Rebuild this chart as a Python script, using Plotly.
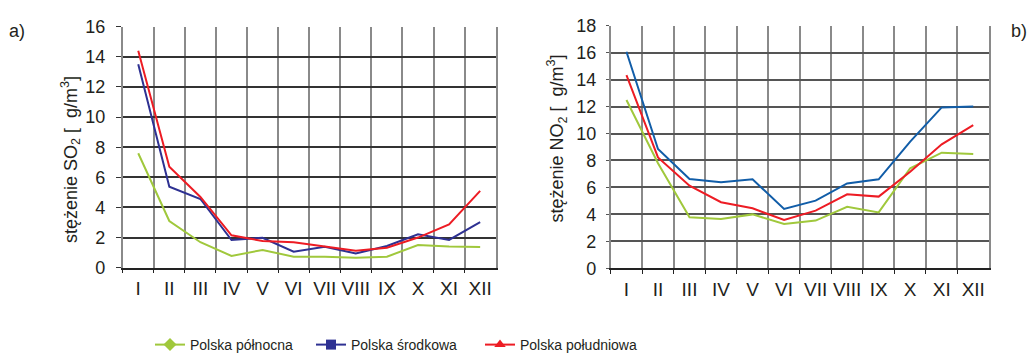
import plotly.graph_objects as go

months = ["I", "II", "III", "IV", "V", "VI", "VII", "VIII", "IX", "X", "XI", "XII"]

so2_north = [7.6, 3.1, 1.69, 0.78, 1.18, 0.73, 0.73, 0.66, 0.73, 1.5, 1.4, 1.38]
so2_central = [13.5, 5.38, 4.56, 1.84, 1.99, 1.06, 1.39, 0.95, 1.44, 2.22, 1.84, 3.03]
so2_south = [14.4, 6.7, 4.7, 2.15, 1.77, 1.69, 1.4, 1.13, 1.33, 2.0, 2.88, 5.1]

no2_north = [12.49, 7.79, 3.78, 3.66, 4.0, 3.29, 3.54, 4.57, 4.15, 7.42, 8.58, 8.48]
no2_central = [16.07, 8.85, 6.63, 6.38, 6.6, 4.4, 5.02, 6.3, 6.6, 9.4, 11.94, 12.0]
no2_south = [14.34, 8.23, 6.13, 4.9, 4.45, 3.58, 4.28, 5.49, 5.32, 7.17, 9.2, 10.63]

series_names = ["Polska północna", "Polska środkowa", "Polska południowa"]

GREEN = "#a0c83c"
BLUE_L = "#2e3192"
BLUE_R = "#115da8"
RED = "#ed1c24"
TXT = "#231f20"
FONT = "Liberation Sans, Arial, sans-serif"

# body margin is removed by post_script, so the figure fills the window exactly
W, H = 1034, 353


def px(x):
    return x / W


def py(y):
    return 1 - y / H


fig = go.Figure()

# left chart (SO2)
for vals, col in [(so2_north, GREEN), (so2_central, BLUE_L), (so2_south, RED)]:
    fig.add_trace(go.Scatter(x=months, y=vals, mode="lines", line=dict(color=col, width=2),
                             xaxis="x", yaxis="y", showlegend=False))
# right chart (NO2)
for vals, col in [(no2_north, GREEN), (no2_central, BLUE_R), (no2_south, RED)]:
    fig.add_trace(go.Scatter(x=months, y=vals, mode="lines", line=dict(color=col, width=2),
                             xaxis="x2", yaxis="y2", showlegend=False))

# legend entries, each in its own legend box
legend_ids = ["legend", "legend2", "legend3"]
for name, col, sym, lid in zip(series_names, [GREEN, BLUE_L, RED],
                               ["diamond", "square", "triangle-up"], legend_ids):
    fig.add_trace(go.Scatter(x=[None], y=[None], mode="lines+markers", name=name,
                             line=dict(color=col, width=2),
                             marker=dict(symbol=sym, size=10, color=col),
                             xaxis="x", yaxis="y", showlegend=True, legend=lid))

xcommon = dict(type="category", tickson="boundaries", ticks="outside", ticklen=4,
               tickcolor="#222", showgrid=True, gridcolor="#8a8a8a", gridwidth=1.5,
               showline=True, linecolor="#222", linewidth=1.5, tickangle=0, automargin=False,
               tickfont=dict(size=19, color=TXT, family=FONT), ticklabelstandoff=3,
               categoryorder="array", categoryarray=months, range=[-0.5, 11.5],
               fixedrange=True)


def legend_box(xs):
    return dict(orientation="h", x=px(xs), xanchor="left", y=py(345), yanchor="middle",
                font=dict(size=14, color=TXT, family=FONT), itemwidth=30,
                bgcolor="rgba(0,0,0,0)")


fig.update_layout(
    width=W, height=H,
    margin=dict(l=0, r=0, t=0, b=0, autoexpand=False),
    paper_bgcolor="white", plot_bgcolor="white",
    font=dict(family=FONT, color=TXT),
    xaxis=dict(domain=[px(122.7), px(495.7)], anchor="y", **xcommon),
    yaxis=dict(domain=[py(267.7), py(26.7)], anchor="x", range=[0, 16], dtick=2, tick0=0,
               showgrid=True, gridcolor="#333", gridwidth=1.5, zeroline=False, automargin=False,
               ticks="outside", ticklen=5, tickcolor="#333",
               showline=True, linecolor="#8a8a8a", linewidth=1.5, mirror=True,
               tickfont=dict(size=18, color=TXT, family=FONT), ticklabelstandoff=7),
    xaxis2=dict(domain=[px(610.7), px(989)], anchor="y2", **xcommon),
    yaxis2=dict(domain=[py(268.3), py(25.7)], anchor="x2", range=[0, 18], dtick=2, tick0=0,
                showgrid=True, gridcolor="#555", gridwidth=1.5, zeroline=False, automargin=False,
                ticks="outside", ticklen=3, tickcolor="#555",
                showline=True, linecolor="#8a8a8a", linewidth=1.5, mirror=True,
                tickfont=dict(size=18, color=TXT, family=FONT), ticklabelstandoff=6),
    legend=legend_box(150),
    legend2=legend_box(311),
    legend3=legend_box(480),
    annotations=[
        dict(text="stężenie SO<sub>2</sub> [&nbsp;&nbsp;g/m<sup>3</sup>]", textangle=-90,
             x=px(70), y=py(160), xref="paper", yref="paper", showarrow=False,
             xanchor="center", yanchor="middle", font=dict(size=18, color=TXT, family=FONT)),
        dict(text="stężenie NO<sub>2</sub> [&nbsp;&nbsp;g/m<sup>3</sup>]", textangle=-90,
             x=px(557), y=py(138.5), xref="paper", yref="paper", showarrow=False,
             xanchor="center", yanchor="middle", font=dict(size=18, color=TXT, family=FONT)),
        dict(text="a)", x=px(17), y=py(31), xref="paper", yref="paper", showarrow=False,
             xanchor="center", yanchor="middle", font=dict(size=18, color=TXT, family=FONT)),
        dict(text="b)", x=px(1029), y=py(31), xref="paper", yref="paper", showarrow=False,
             xanchor="right", yanchor="middle", font=dict(size=18, color=TXT, family=FONT)),
    ],
)

fig.write_html(
    "out.html",
    config={"displayModeBar": False},
    post_script="document.body.style.margin='0px';document.body.style.overflow='hidden';",
)
